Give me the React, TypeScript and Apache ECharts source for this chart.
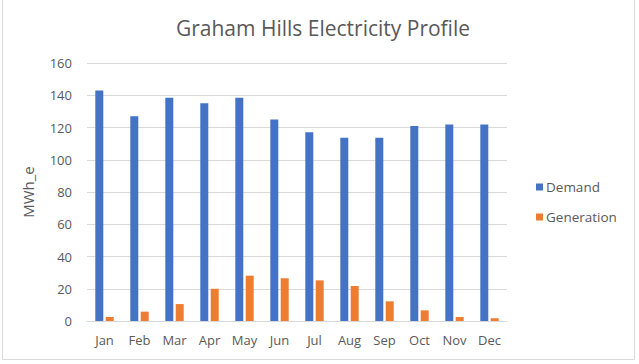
import React, { useEffect, useRef } from "react";
import * as echarts from "echarts";

const months = ["Jan", "Feb", "Mar", "Apr", "May", "Jun", "Jul", "Aug", "Sep", "Oct", "Nov", "Dec"];
const demand = [143, 127, 138.5, 135, 138.5, 125, 117, 113.7, 113.7, 121, 121.8, 121.8];
const generation = [2.5, 5.8, 10.5, 20, 28.1, 26.5, 25.2, 21.7, 12.2, 6.6, 2.5, 1.7];
const seriesNames = ["Demand", "Generation"];

const FONT = "'Open Sans', 'Noto Sans', sans-serif";
const GRAY = "#595959";

export default function App() {
  const ref = useRef<HTMLDivElement>(null);
  useEffect(() => {
    if (!ref.current) return;
    const chart = echarts.init(ref.current, undefined, { renderer: "svg" });
    chart.setOption({
      animation: false,
      backgroundColor: "#ffffff",
      title: {
        text: "Graham Hills Electricity Profile",
        left: 318,
        top: 12,
        textAlign: "center",
        textStyle: { fontFamily: FONT, fontSize: 21, fontWeight: "normal", color: GRAY },
      },
      graphic: [
        {
          type: "rect",
          shape: { x: 2.5, y: -2, width: 632, height: 361.5 },
          style: { fill: "none", stroke: "#d9d9d9", lineWidth: 1 },
          silent: true,
        },
      ],
      legend: {
        orient: "vertical",
        left: 531,
        top: 175,
        itemWidth: 7,
        itemHeight: 7,
        itemGap: 16,
        icon: "rect",
        textStyle: { fontFamily: FONT, fontSize: 13.5, color: GRAY, padding: [0, 0, 0, -2] },
        data: seriesNames,
      },
      grid: { left: 87, right: 132, top: 63, bottom: 43, containLabel: false },
      xAxis: {
        type: "category",
        data: months,
        axisLine: { lineStyle: { color: "#d9d9d9" } },
        axisTick: { show: false },
        axisLabel: { fontFamily: FONT, fontSize: 13, color: GRAY, margin: 12 },
      },
      yAxis: {
        type: "value",
        min: 0,
        max: 160,
        interval: 20,
        name: "MWh_e",
        nameLocation: "middle",
        nameGap: 52,
        nameTextStyle: { fontFamily: FONT, fontSize: 15, color: GRAY },
        axisLine: { show: false },
        axisTick: { show: false },
        splitLine: { lineStyle: { color: "#d9d9d9" } },
        axisLabel: { fontFamily: FONT, fontSize: 13, color: GRAY, margin: 15 },
      },
      series: [
        {
          name: seriesNames[0],
          type: "bar",
          data: demand,
          barWidth: 8,
          barGap: "30%",
          itemStyle: { color: "#4472C4" },
        },
        {
          name: seriesNames[1],
          type: "bar",
          data: generation,
          barWidth: 8,
          barGap: "30%",
          itemStyle: { color: "#ED7D31" },
        },
      ],
    });
    return () => chart.dispose();
  }, []);
  return <div ref={ref} style={{ position: "fixed", left: 0, top: 0, width: 639, height: 364 }} />;
}
